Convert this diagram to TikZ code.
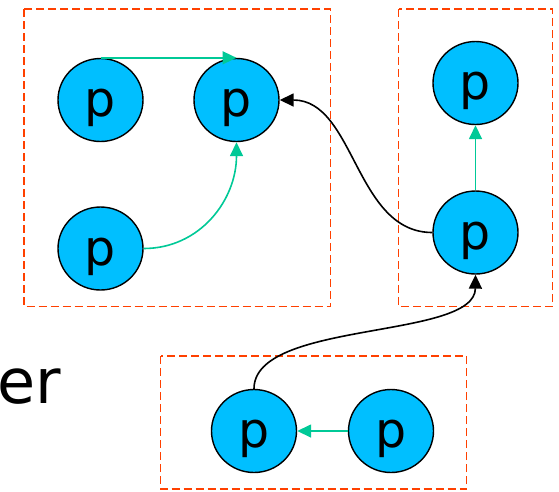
\documentclass[tikz,border=0pt]{standalone}
\usepackage{fontspec}
\setmainfont{DejaVu Sans}
\usetikzlibrary{shapes.geometric,arrows.meta}
\definecolor{nodefill}{RGB}{0,191,255}
\definecolor{edgegreen}{RGB}{0,201,151}
\definecolor{clusterred}{RGB}{255,64,0}
\tikzset{
  pnode/.style={ellipse,draw=black,line width=1.4pt,fill=nodefill,minimum width=85pt,minimum height=83pt,inner sep=0pt,
    font=\fontsize{49}{58}\selectfont,text height=33pt,text depth=0pt},
  cluster/.style={draw=clusterred,line width=1.6pt,dash pattern=on 8pt off 4pt},
  gedge/.style={draw=edgegreen,line width=1.6pt,-{Triangle[length=14pt,width=13pt]}},
  bedge/.style={draw=black,line width=1.6pt,-{Triangle[length=14pt,width=13pt]}},
}
\begin{document}
\begin{tikzpicture}[x=1pt,y=-1pt]
\useasboundingbox (0,0) rectangle (559,491);
% clusters
\draw[cluster] (24,9) rectangle (330.5,306.5);
\draw[cluster] (398.5,9) rectangle (552.5,306.5);
\draw[cluster] (160.5,356) rectangle (466.5,489);
% label fragment
\node[anchor=base west,inner sep=0pt,font=\fontsize{62}{72}\selectfont] (lbl) at (-2.6,403) {er};
% nodes
\node[pnode] (A) at (100.5,100) {p};
\node[pnode] (B) at (236.5,100) {p};
\node[pnode] (C) at (100.5,248.5) {p};
\node[pnode] (D) at (475.5,83) {p};
\node[pnode] (E) at (475.5,232.5) {p};
\node[pnode] (F) at (254,431) {p};
\node[pnode] (G) at (391,431) {p};
% edges
\draw[gedge] (A.north) -- (B.north);
\draw[gedge] (C.east) .. controls (200,248.5) and (236.5,200) .. (B.south);
\draw[bedge] (E.west) .. controls (355,232.5) and (355,100) .. (B.east);
\draw[bedge] (F.north) .. controls (254,320) and (475,340) .. (E.south);
\draw[gedge] (E.north) -- (D.south);
\draw[gedge] (G.west) -- (F.east);
\end{tikzpicture}
\end{document}
